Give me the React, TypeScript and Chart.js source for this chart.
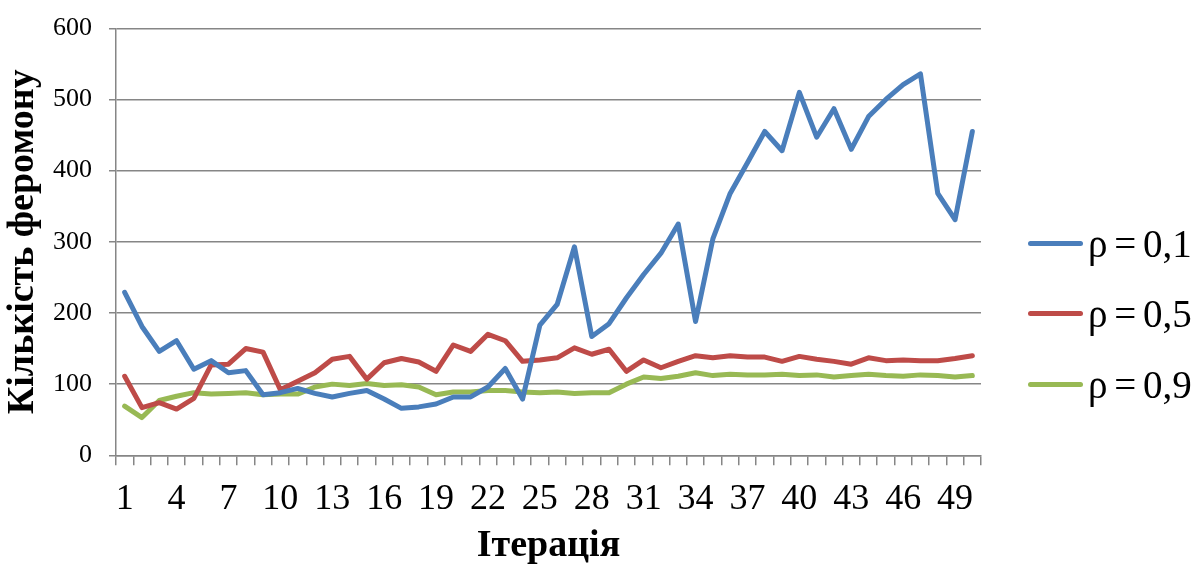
import React, { useEffect, useRef } from "react";
import { Chart, registerables } from "chart.js";

Chart.register(...registerables);

const iterations = [
  "1", "2", "3", "4", "5", "6", "7", "8", "9", "10",
  "11", "12", "13", "14", "15", "16", "17", "18", "19", "20",
  "21", "22", "23", "24", "25", "26", "27", "28", "29", "30",
  "31", "32", "33", "34", "35", "36", "37", "38", "39", "40",
  "41", "42", "43", "44", "45", "46", "47", "48", "49", "50",
];

const rho01 = [
  229, 181, 146, 161, 121, 133, 116, 119, 85, 88,
  94, 87, 82, 87, 91, 79, 66, 68, 72, 82,
  82, 96, 122, 79, 183, 212, 293, 167, 185, 221,
  254, 284, 325, 188, 304, 368, 411, 455, 428, 510,
  447, 487, 430, 476, 500, 521, 536, 368, 331, 455,
];

const rho05 = [
  111, 67, 74, 65, 80, 127, 128, 150, 145, 92,
  104, 116, 135, 139, 107, 130, 136, 131, 118, 155,
  146, 170, 161, 132, 134, 137, 151, 142, 149, 118,
  134, 123, 132, 140, 137, 140, 138, 138, 132, 139,
  135, 132, 128, 137, 133, 134, 133, 133, 136, 140,
];

const rho09 = [
  69, 53, 77, 83, 88, 86, 87, 88, 85, 86,
  86, 96, 100, 98, 101, 98, 99, 96, 85, 89,
  89, 91, 91, 89, 88, 89, 87, 88, 88, 100,
  110, 108, 111, 116, 112, 114, 113, 113, 114, 112,
  113, 110, 112, 114, 112, 111, 113, 112, 110, 112,
];

const seriesNames = ["ρ = 0,1", "ρ = 0,5", "ρ = 0,9"];
const seriesColors = ["#4A7EBB", "#BE4B48", "#98B954"];
const yTitle = "Кількість феромону";
const xTitle = "Ітерація";

const FONT = "'Liberation Serif', 'Times New Roman', serif";
const GRID = "#868686";

export default function App() {
  const canvasRef = useRef<HTMLCanvasElement | null>(null);

  useEffect(() => {
    if (!canvasRef.current) return;
    const values = [rho01, rho05, rho09];
    const chart = new Chart(canvasRef.current, {
      type: "line",
      data: {
        labels: iterations,
        datasets: values.map((v, i) => ({
          label: seriesNames[i],
          data: v,
          borderColor: seriesColors[i],
          backgroundColor: seriesColors[i],
          borderWidth: 5,
          pointRadius: 0,
          tension: 0,
          borderJoinStyle: "round" as const,
          borderCapStyle: "round" as const,
        })),
      },
      options: {
        animation: false,
        responsive: true,
        maintainAspectRatio: false,
        layout: { padding: { left: 0, right: 214, top: 0, bottom: 0 } },
        plugins: {
          legend: { display: false },
          tooltip: { enabled: false },
        },
        scales: {
          x: {
            type: "category",
            offset: true,
            afterFit: (scale: any) => {
              scale.height = 113.7;
            },
            grid: {
              display: true,
              drawOnChartArea: false,
              drawTicks: true,
              tickLength: 10,
              color: GRID,
              lineWidth: 1.5,
              offset: true,
            },
            border: { display: true, color: GRID, width: 1.5 },
            ticks: {
              autoSkip: false,
              maxRotation: 0,
              minRotation: 0,
              color: "#000",
              padding: 13,
              font: { family: FONT, size: 36 },
              callback: (_v: any, i: number) => (i % 3 === 0 ? iterations[i] : ""),
            },
            title: {
              display: true,
              text: xTitle,
              color: "#000",
              font: { family: FONT, size: 38, weight: "bold" },
              padding: { top: 0, bottom: 0 },
            },
          },
          y: {
            min: 0,
            max: 600,
            afterFit: (scale: any) => {
              scale.width = 116;
              scale.paddingTop = 28.3;
            },
            grid: { color: GRID, lineWidth: 1.5, tickLength: 7 },
            border: { display: true, color: GRID, width: 1.5 },
            ticks: {
              stepSize: 100,
              color: "#000",
              padding: 17,
              font: { family: FONT, size: 26 },
            },
            title: {
              display: true,
              text: yTitle,
              color: "#000",
              font: { family: FONT, size: 38, weight: "bold" },
              padding: { top: 0, bottom: 0 },
            },
          },
        },
      },
    });
    return () => chart.destroy();
  }, []);

  const legendCenters = [243, 313, 384];

  return (
    <div style={{ position: "fixed", left: 0, top: 0, width: 1195, height: 569, background: "#fff" }}>
      <canvas ref={canvasRef} />
      {seriesNames.map((name, i) => (
        <div
          key={name}
          style={{
            position: "absolute",
            left: 1028,
            top: legendCenters[i] - 25,
            height: 50,
            display: "flex",
            alignItems: "center",
            fontFamily: FONT,
            fontSize: 39,
            wordSpacing: -3,
            color: "#000",
            whiteSpace: "nowrap",
          }}
        >
          <span
            style={{
              display: "inline-block",
              width: 55,
              height: 5,
              borderRadius: 3,
              background: seriesColors[i],
              marginRight: 5,
            }}
          />
          <span>{name}</span>
        </div>
      ))}
    </div>
  );
}
